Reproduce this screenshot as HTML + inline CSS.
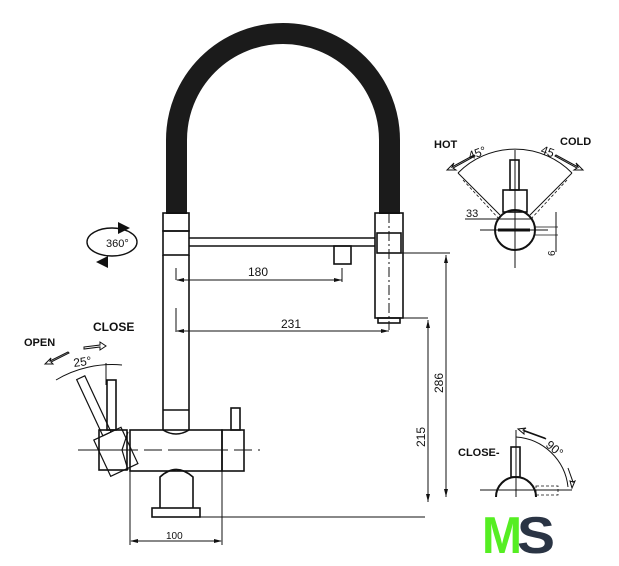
<!DOCTYPE html>
<html><head><meta charset="utf-8"><style>
html,body{margin:0;padding:0;background:#fff;width:619px;height:566px;overflow:hidden}
svg{display:block}
text{font-family:"Liberation Sans",sans-serif;fill:#111}
</style></head><body>
<svg width="619" height="566" viewBox="0 0 619 566" xmlns="http://www.w3.org/2000/svg">
<g fill="none" stroke="#111" stroke-width="1.6">
<path d="M176.5 214 V140 A106.5 106.5 0 0 1 389.5 140 V214" stroke="#1b1b1b" stroke-width="21"/>
<rect x="163" y="213" width="26" height="18"/>
<rect x="163" y="231" width="26" height="24"/>
<line x1="163" y1="255" x2="163" y2="430"/><line x1="189" y1="255" x2="189" y2="430"/>
<line x1="163" y1="410" x2="189" y2="410"/>
<path d="M163 430 Q176 438 189 430"/>
<line x1="189" y1="238" x2="375" y2="238"/><line x1="189" y1="246" x2="375" y2="246"/>
<rect x="334" y="246" width="17" height="18"/>
<rect x="375" y="213" width="28" height="105"/>
<rect x="377" y="233" width="24" height="20"/>
<rect x="378" y="318" width="22" height="5"/>
<line x1="389" y1="213" x2="389" y2="330" stroke-dasharray="10 3 2 3" stroke-width="1"/>
<rect x="130" y="430" width="92" height="41"/>
<rect x="222" y="430" width="22" height="41"/>
<rect x="231" y="408" width="9" height="22"/>
<path d="M160 508 V477 Q176 462 193 477 V508"/>
<rect x="152" y="508" width="48" height="9"/>
<line x1="78" y1="450" x2="260" y2="450" stroke-width="1" stroke-dasharray="60 6 18 6"/>
<rect x="99" y="430" width="28" height="40"/>
<rect x="107" y="380" width="9" height="50"/>
<g transform="rotate(-25 115 450)"><rect x="100" y="432" width="30" height="40" stroke-width="1.2"/><rect x="110" y="370" width="9" height="62" stroke-width="1.2"/></g>
<path d="M122 450 L128 432 M122 450 L128 470" stroke-width="1.2"/>
<path d="M56 380 A110 110 0 0 1 122 365" stroke-width="1"/>
<line x1="106" y1="363" x2="106" y2="385" stroke-width="1"/>
<g stroke-width="1">
<line x1="176" y1="268" x2="176" y2="280"/><line x1="177" y1="280" x2="342" y2="280"/><line x1="342" y1="268" x2="342" y2="282"/>
<line x1="176" y1="308" x2="176" y2="332"/><line x1="177" y1="331" x2="389" y2="331"/>
<line x1="400" y1="253" x2="450" y2="253"/><line x1="446" y1="255" x2="446" y2="497"/>
<line x1="400" y1="318" x2="428" y2="318"/><line x1="428" y1="320" x2="428" y2="502"/>
<line x1="200" y1="517" x2="425" y2="517"/>
<line x1="130" y1="471" x2="130" y2="545"/><line x1="222" y1="471" x2="222" y2="545"/>
<line x1="131" y1="541" x2="221" y2="541"/>
</g>
<circle cx="515" cy="230" r="20" stroke-width="2"/>
<rect x="503" y="190" width="24" height="22"/>
<rect x="510" y="160" width="9" height="30"/>
<path d="M458 173 A80 80 0 0 1 572 173" stroke-width="1"/>
<line x1="515" y1="150" x2="515" y2="268" stroke-width="1"/>
<line x1="458" y1="173" x2="500" y2="215" stroke-width="1"/><line x1="572" y1="173" x2="530" y2="215" stroke-width="1"/>
<line x1="463" y1="180" x2="500" y2="220" stroke-width="0.8" stroke-dasharray="3 2"/><line x1="567" y1="180" x2="530" y2="220" stroke-width="0.8" stroke-dasharray="3 2"/>
<line x1="465" y1="219" x2="533" y2="219" stroke-width="1"/>
<line x1="480" y1="230" x2="548" y2="230" stroke-width="1"/>
<line x1="498" y1="230" x2="530" y2="230" stroke-width="3"/>
<line x1="556" y1="212" x2="556" y2="252" stroke-width="1"/>
<line x1="535" y1="227" x2="558" y2="227" stroke-width="0.8"/><line x1="535" y1="235" x2="558" y2="235" stroke-width="0.8"/>
<path d="M496 497 A20 20 0 0 1 536 497" stroke-width="2"/>
<rect x="511" y="447" width="9" height="30"/>
<line x1="516" y1="430" x2="516" y2="497" stroke-width="1"/>
<line x1="480" y1="490" x2="572" y2="490" stroke-width="1"/>
<path d="M516 437 A56 56 0 0 1 568 487" stroke-width="1"/>
<rect x="536" y="486" width="22" height="9" stroke-width="0.8" stroke-dasharray="3 2"/>
<ellipse cx="112" cy="242" rx="25" ry="14" stroke-width="1.4"/>
</g>
<g fill="#111">
<path d="M176 280 l8 -2 v4z M342 280 l-8 -2 v4z M176 331 l8 -2 v4z M389 331 l-8 -2 v4z"/>
<path d="M446 255 l-2 8 h4z M446 497 l-2 -8 h4z M428 320 l-2 8 h4z M428 502 l-2 -8 h4z"/>
<path d="M130 541 l8 -2 v4z M222 541 l-8 -2 v4z"/>
<path d="M118 222 l12 6 l-12 6z M108 256 l-12 6 l12 6z"/>
</g>
<g fill="#fff" stroke="#111" stroke-width="1">
<path d="M84 347 l16 -2 v-3 l6 4 l-6 4 v-3 l-16 2z"/>
<path d="M68 352 l-18 9 l1 -3 l-6 6 l8 0 l-2 -2 l18 -9z"/>
<path d="M474 155 l-22 12 l2 -4 l-7 7 l9 0 l-3 -2 l22 -12z"/>
<path d="M556 155 l22 12 l-2 -4 l7 7 l-9 0 l3 -2 l-22 -12z"/>
<path d="M545 438 l-22 -8 l3 -2 l-8 1 l6 5 l0 -3 l22 8z"/>
<path d="M568 468 l5 14 l-3 -1 l2 7 l3 -7 l-2 1 l-5 -14z"/>
</g>
<g font-size="11">
<text x="248" y="276" font-size="12">180</text>
<text x="281" y="328" font-size="12">231</text>
<text x="166" y="539" font-size="10">100</text>
<text x="106" y="247" font-size="11">360°</text>
<text x="74" y="367" font-size="12" transform="rotate(-8 74 367)">25°</text>
<text x="93" y="331" font-size="12" font-weight="bold">CLOSE</text>
<text x="24" y="346" font-size="11" font-weight="bold">OPEN</text>
<text x="434" y="148" font-size="11" font-weight="bold">HOT</text>
<text x="560" y="145" font-size="11" font-weight="bold">COLD</text>
<text x="470" y="160" font-size="12" transform="rotate(-20 470 160)">45°</text>
<text x="540" y="153" font-size="12" transform="rotate(20 540 153)">45</text>
<text x="466" y="217" font-size="11">33</text>
<text x="555" y="256" font-size="10" transform="rotate(-90 555 256)">6</text>
<text x="458" y="456" font-size="11" font-weight="bold">CLOSE-</text>
<text x="545" y="446" font-size="12" transform="rotate(40 545 446)">90°</text>
<text x="443" y="393" font-size="12" transform="rotate(-90 443 393)">286</text>
<text x="425" y="447" font-size="12" transform="rotate(-90 425 447)">215</text>
</g>
<text x="482" y="553" font-size="52" font-weight="bold" style="fill:#55ee22" textLength="40" lengthAdjust="spacingAndGlyphs">M</text>
<text x="517" y="553" font-size="52" font-weight="bold" style="fill:#2a3444" textLength="38" lengthAdjust="spacingAndGlyphs">S</text>
</svg>
</body></html>
